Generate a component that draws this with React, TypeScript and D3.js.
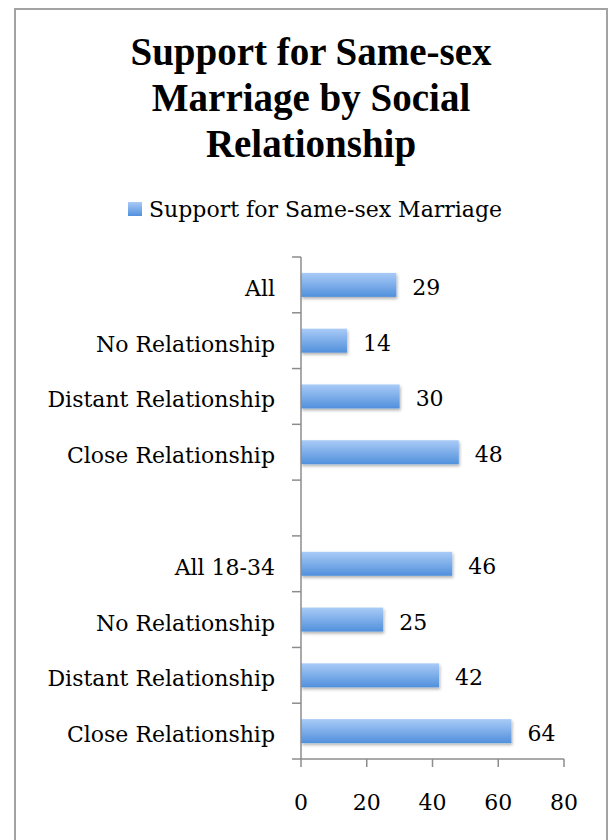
import React, { useEffect, useRef } from 'react';
import * as d3 from 'd3';

const titleLines = ['Support for Same-sex', 'Marriage by Social', 'Relationship'];
const seriesName = 'Support for Same-sex Marriage';
const categories = [
  'All',
  'No Relationship',
  'Distant Relationship',
  'Close Relationship',
  '',
  'All 18-34',
  'No Relationship',
  'Distant Relationship',
  'Close Relationship',
];
const values: (number | null)[] = [29, 14, 30, 48, null, 46, 25, 42, 64];
const xTicks = [0, 20, 40, 60, 80];

const App = () => {
  const ref = useRef<SVGSVGElement>(null);

  useEffect(() => {
    const svg = d3.select(ref.current);
    svg.selectAll('*').remove();

    const width = 610, height = 840;
    const left = 301, right = 564, top = 257, bottom = 759;
    const serif = '"DejaVu Serif", serif';
    const axisColor = '#8c8c8c';

    svg.attr('width', width).attr('height', height);

    const defs = svg.append('defs');
    const grad = defs.append('linearGradient')
      .attr('id', 'barGrad')
      .attr('x1', 0).attr('y1', 0).attr('x2', 0).attr('y2', 1);
    grad.append('stop').attr('offset', '0%').attr('stop-color', '#a9cbf7');
    grad.append('stop').attr('offset', '100%').attr('stop-color', '#5190dc');

    const shadow = defs.append('filter').attr('id', 'barShadow')
      .attr('x', '-10%').attr('y', '-20%').attr('width', '130%').attr('height', '170%');
    shadow.append('feDropShadow')
      .attr('dx', 1).attr('dy', 2).attr('stdDeviation', 1.5)
      .attr('flood-color', '#000').attr('flood-opacity', 0.3);

    // frame
    svg.append('rect')
      .attr('x', 15).attr('y', 9)
      .attr('width', 592).attr('height', 850)
      .attr('fill', '#fff')
      .attr('stroke', '#a3a3a3')
      .attr('stroke-width', 2);

    // title
    svg.append('g').selectAll('text')
      .data(titleLines)
      .join('text')
      .attr('x', 311)
      .attr('y', (d, i) => 65 + i * 46)
      .attr('text-anchor', 'middle')
      .attr('font-family', '"Liberation Serif", serif')
      .attr('font-weight', 'bold')
      .attr('font-size', 39)
      .attr('fill', '#000')
      .text(d => d);

    // legend
    svg.append('rect')
      .attr('x', 128).attr('y', 202)
      .attr('width', 14).attr('height', 14)
      .attr('fill', 'url(#barGrad)');
    svg.append('text')
      .attr('x', 149).attr('y', 217)
      .attr('font-family', serif)
      .attr('font-size', 22)
      .attr('fill', '#000')
      .text(seriesName);

    const x = d3.scaleLinear().domain([0, 80]).range([left, right]);
    const y = d3.scaleBand<number>()
      .domain(d3.range(categories.length))
      .range([top, bottom])
      .paddingInner(0.57)
      .paddingOuter(0.285);

    const step = y.step();
    const g = svg.append('g');

    // bars
    const rows = categories.map((c, i) => ({ c, i, v: values[i] }));
    g.selectAll('rect.bar')
      .data(rows.filter(d => d.v !== null))
      .join('rect')
      .attr('class', 'bar')
      .attr('x', x(0))
      .attr('y', d => y(d.i)!)
      .attr('width', d => x(d.v as number) - x(0))
      .attr('height', y.bandwidth())
      .attr('fill', 'url(#barGrad)')
      .attr('filter', 'url(#barShadow)');

    // value labels
    g.selectAll('text.val')
      .data(rows.filter(d => d.v !== null))
      .join('text')
      .attr('class', 'val')
      .attr('x', d => x(d.v as number) + 16)
      .attr('y', d => y(d.i)! + y.bandwidth() / 2 + 10)
      .attr('font-family', serif)
      .attr('font-size', 22)
      .attr('fill', '#000')
      .text(d => d.v as number);

    // category labels
    g.selectAll('text.cat')
      .data(rows)
      .join('text')
      .attr('class', 'cat')
      .attr('x', left - 26)
      .attr('y', d => y(d.i)! + y.bandwidth() / 2 + 11)
      .attr('text-anchor', 'end')
      .attr('font-family', serif)
      .attr('font-size', 22)
      .attr('fill', '#000')
      .text(d => d.c);

    // y axis line + ticks between categories
    g.append('line')
      .attr('x1', left).attr('x2', left)
      .attr('y1', top).attr('y2', bottom)
      .attr('stroke', axisColor).attr('stroke-width', 1.5);
    g.selectAll('line.ytick')
      .data(d3.range(categories.length + 1))
      .join('line')
      .attr('class', 'ytick')
      .attr('x1', left - 9).attr('x2', left)
      .attr('y1', i => top + i * step)
      .attr('y2', i => top + i * step)
      .attr('stroke', axisColor).attr('stroke-width', 1.5);

    // x axis
    g.append('line')
      .attr('x1', left).attr('x2', right)
      .attr('y1', bottom).attr('y2', bottom)
      .attr('stroke', axisColor).attr('stroke-width', 1.5);
    g.selectAll('line.xtick')
      .data(xTicks)
      .join('line')
      .attr('class', 'xtick')
      .attr('x1', d => x(d)).attr('x2', d => x(d))
      .attr('y1', bottom).attr('y2', bottom + 8)
      .attr('stroke', axisColor).attr('stroke-width', 1.5);
    g.selectAll('text.xlab')
      .data(xTicks)
      .join('text')
      .attr('class', 'xlab')
      .attr('x', d => x(d))
      .attr('y', 810)
      .attr('text-anchor', 'middle')
      .attr('font-family', serif)
      .attr('font-size', 22)
      .attr('fill', '#000')
      .text(d => d);
  }, []);

  return <svg ref={ref} style={{ position: 'absolute', left: 0, top: 0 }}></svg>;
};

export default App;
